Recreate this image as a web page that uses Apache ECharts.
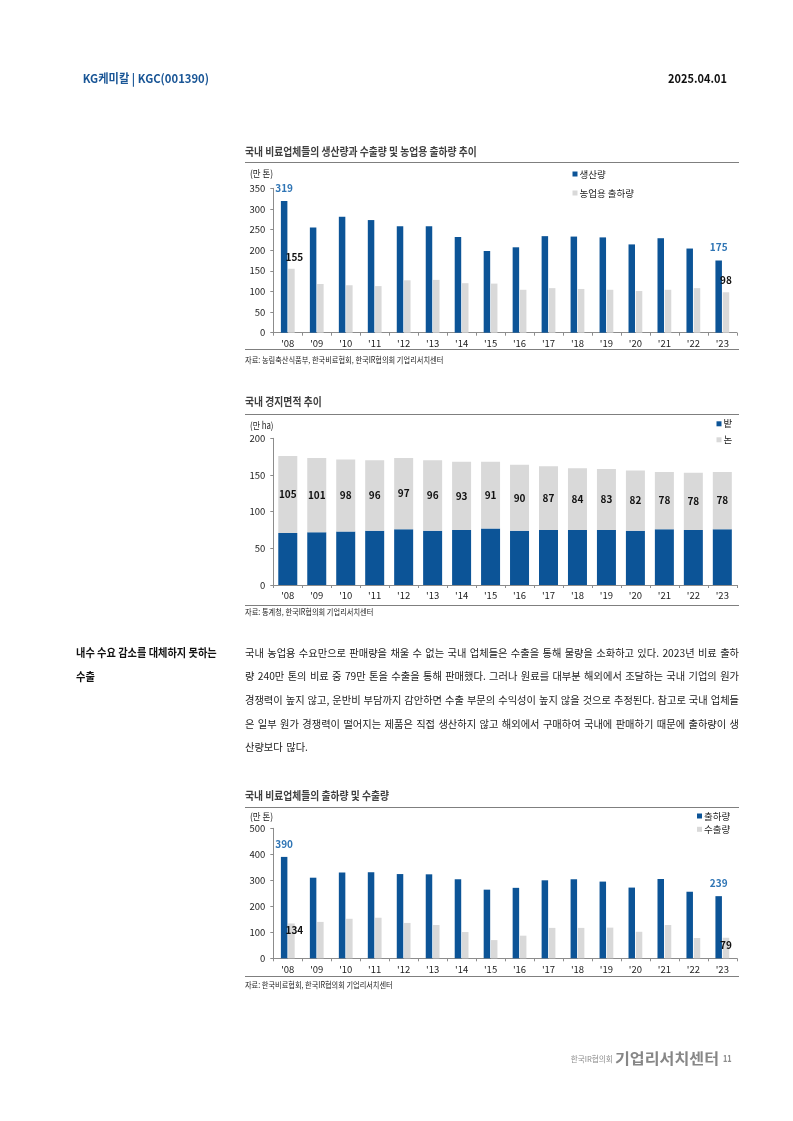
<!DOCTYPE html>
<html><head><meta charset="utf-8">
<script src="https://cdn.jsdelivr.net/npm/echarts@6/dist/echarts.min.js"></script>
<style>html,body{margin:0;padding:0;background:#fff}#c{width:793px;height:1121px}</style>
</head><body><div id="c"></div>
<script>
// ---------- data ----------
const years = ["'08","'09","'10","'11","'12","'13","'14","'15","'16","'17","'18","'19","'20","'21","'22","'23"];
// chart 1 (만 톤)
const production   = [319,255,281,273,258,258,232,198,207,234,233,231,214,229,204,175];
const agriShipment = [155,118,115,113,127,128,120,119,104,108,106,104,101,104,108,98];
// chart 2 (만 ha)
const dryField = [71,72,73,74,76,74,75,77,74,75,75,75,74,76,75,76];
const paddy    = [105,101,98,96,97,96,93,91,90,87,84,83,82,78,78,78];
// chart 3 (만 톤)
const shipment  = [390,310,330,331,324,323,304,264,271,300,304,295,272,305,256,239];
const exportVol = [134,140,152,156,136,128,101,70,87,117,117,118,102,128,78,79];

const bodyLines = [
  "국내 농업용 수요만으로 판매량을 채울 수 없는 국내 업체들은 수출을 통해 물량을 소화하고 있다. 2023년 비료 출하",
  "량 240만 톤의 비료 중 79만 톤을 수출을 통해 판매했다. 그러나 원료를 대부분 해외에서 조달하는 국내 기업의 원가",
  "경쟁력이 높지 않고, 운반비 부담까지 감안하면 수출 부문의 수익성이 높지 않을 것으로 추정된다. 참고로 국내 업체들",
  "은 일부 원가 경쟁력이 떨어지는 제품은 직접 생산하지 않고 해외에서 구매하여 국내에 판매하기 때문에 출하량이 생",
  "산량보다 많다."
];

// ---------- helpers ----------
const FONT = '"Noto Sans CJK KR", "Noto Sans", sans-serif';
const BLUE = '#0c5497', GRAY = '#d9d9d9', LBLUE = '#2f75b5', AX = '#8c8c8c';
const mctx = document.createElement('canvas').getContext('2d');
function measure(t, size, bold){ mctx.font = (bold?'bold ':'normal ') + size + 'px ' + FONT; return mctx.measureText(t).width; }
function txt(t, x, y, o){
  o = o || {};
  const size = o.size || 10, bold = !!o.bold;
  let sx = o.scale || 1;
  if (o.width) sx = o.width / measure(t, size, bold);
  const align = o.align || 'left';
  return {type:'text', x:x, y:y, scaleX:sx, silent:true, z:10,
    style:{text:t, fontSize:size, fontFamily:FONT, fontWeight:bold?'bold':'normal', fill:o.color||'#222',
      textAlign:align, textVerticalAlign:'middle', align:align, verticalAlign:'middle'}};
}
function hline(x1, x2, y, color){
  return {type:'line', silent:true, shape:{x1:x1, y1:y, x2:x2, y2:y}, style:{stroke:color||'#7f7f7f', lineWidth:1}};
}
function justify(lines, x, y0, lh, W, size, color){
  const els = [];
  let s = 1;
  lines.forEach((ln, i) => {
    if (i === lines.length - 1) return;
    const ws = ln.split(' ');
    const T = ws.reduce((a, w) => a + measure(w, size, false), 0);
    s = Math.min(s, (W - 3 * (ws.length - 1)) / T);
  });
  lines.forEach((ln, i) => {
    const ws = ln.split(' ');
    const widths = ws.map(w => measure(w, size, false) * s);
    const T = widths.reduce((a, b) => a + b, 0);
    const last = i === lines.length - 1;
    const gap = last ? 3.5 : (W - T) / (ws.length - 1);
    let cx = x;
    ws.forEach((w, j) => {
      els.push({type:'text', x:cx, y:y0 + i * lh, scaleX:s, silent:true,
        style:{text:w, fontSize:size, fontFamily:FONT, fill:color, textVerticalAlign:'middle', verticalAlign:'middle'}});
      cx += widths[j] + gap;
    });
  });
  return els;
}
function withEnds(arr, first, last){
  return arr.map((v, i) => {
    if (i === 0 && first) return {value:v, label:Object.assign({show:true}, first)};
    if (i === arr.length - 1 && last) return {value:v, label:Object.assign({show:true}, last)};
    return v;
  });
}
const blueLbl = {position:'top', distance:8, color:LBLUE, fontWeight:'bold', fontSize:10, fontFamily:FONT};
const blackTop = {position:'top', distance:7, color:'#111', fontWeight:'bold', fontSize:10, fontFamily:FONT};
const blackIn = {position:'insideTop', distance:2, color:'#111', fontWeight:'bold', fontSize:10, fontFamily:FONT};

// ---------- graphic ----------
const heading1 = "내수 수요 감소를 대체하지 못하는";
const hScale = 140.7 / measure(heading1, 11.5, true);
let graphic = [
  txt('KG케미칼 | KGC(001390)', 82.7, 78.3, {bold:true, size:12, width:126.3, color:'#1a5696'}),
  txt('2025.04.01', 727, 78.3, {bold:true, size:12, width:59, align:'right', color:'#111'}),
  // chart 1
  txt('국내 비료업체들의 생산량과 수출량 및 농업용 출하량 추이', 245, 151.7, {bold:true, size:11, width:231.7, color:'#3f3f3f'}),
  hline(245, 739, 162.5), hline(245, 739, 349.5),
  txt('(만 톤)', 250, 173.3, {size:9.5, width:23, color:'#222'}),
  txt('자료: 농림축산식품부, 한국비료협회, 한국IR협의회 기업리서치센터', 245, 360, {size:8.5, width:198.3, color:'#222'}),
  // chart 2
  txt('국내 경지면적 추이', 245, 401.7, {bold:true, size:11, width:76.7, color:'#3f3f3f'}),
  hline(245, 739, 414.5), hline(245, 739, 605.5),
  txt('(만 ha)', 250, 425, {size:9.5, width:23.5, color:'#222'}),
  txt('자료: 통계청, 한국IR협의회 기업리서치센터', 245, 612, {size:8.5, width:128.3, color:'#222'}),
  // chart 3
  txt('국내 비료업체들의 출하량 및 수출량', 245, 795.7, {bold:true, size:11, width:144, color:'#3f3f3f'}),
  hline(245, 739, 807.5), hline(245, 739, 976.5),
  txt('(만 톤)', 250, 816.7, {size:9.5, width:23, color:'#222'}),
  txt('자료: 한국비료협회, 한국IR협의회 기업리서치센터', 245, 985, {size:8.5, width:147.7, color:'#222'}),
  // text section
  txt(heading1, 76, 652.7, {bold:true, size:11.5, scale:hScale, color:'#111'}),
  txt('수출', 76, 676.3, {bold:true, size:11.5, scale:hScale, color:'#111'}),
  // footer
  txt('한국IR협의회', 570.7, 1058.5, {size:8, width:42, color:'#8c8c8c'}),
  txt('기업리서치센터', 615, 1058, {bold:true, size:15, width:104, color:'#878787'}),
  txt('11', 723, 1058.5, {bold:true, size:9.5, width:8.7, color:'#8c8c8c'})
];
graphic = graphic.concat(justify(bodyLines, 245, 652.7, 23.65, 494, 10.5, '#222'));

// ---------- axes ----------
const gridDefs = [
  {left:273.3, top:188.3, width:463.5, height:144.4},
  {left:273.3, top:438.3, width:463.5, height:146.7},
  {left:273.3, top:828.3, width:463.5, height:130}
];
const yDefs = [{min:0, max:350, interval:50}, {min:0, max:200, interval:50}, {min:0, max:500, interval:100}];
const legendText = {fontSize:9.5, color:'#222', lineHeight:12, padding:[0,0,0,-3], fontFamily:FONT};

const option = {
  animation:false,
  backgroundColor:'#fff',
  textStyle:{fontFamily:FONT},
  grid:gridDefs,
  xAxis:gridDefs.map((g, i) => ({
    type:'category', gridIndex:i, data:years,
    axisLine:{show:true, lineStyle:{color:AX, width:1}},
    axisTick:{show:true, length:3, lineStyle:{color:AX}},
    axisLabel:{color:'#222', fontSize:9.5, margin:6, fontFamily:FONT}
  })),
  yAxis:yDefs.map((d, i) => ({
    type:'value', gridIndex:i, min:d.min, max:d.max, interval:d.interval,
    axisLine:{show:true, lineStyle:{color:AX, width:1}},
    axisTick:{show:true, length:3, lineStyle:{color:AX}},
    splitLine:{show:false},
    axisLabel:{color:'#222', fontSize:9.5, margin:8, fontFamily:FONT}
  })),
  legend:[
    {data:['생산량','농업용 출하량'], orient:'vertical', left:567.5, top:163, itemWidth:5, itemHeight:5, itemGap:7, icon:'rect', selectedMode:false, textStyle:legendText},
    {data:['밭','논'], orient:'vertical', left:711.5, top:412.8, itemWidth:5, itemHeight:5, itemGap:4, icon:'rect', selectedMode:false, textStyle:legendText},
    {data:['출하량','수출량'], orient:'vertical', left:692, top:805, itemWidth:5, itemHeight:5, itemGap:1.3, icon:'rect', selectedMode:false, textStyle:legendText}
  ],
  series:[
    {name:'생산량', type:'bar', xAxisIndex:0, yAxisIndex:0, barWidth:6.5, barGap:'12%', itemStyle:{color:BLUE},
     label:{show:false}, data:withEnds(production, blueLbl, blueLbl)},
    {name:'농업용 출하량', type:'bar', xAxisIndex:0, yAxisIndex:0, barWidth:6.5, barGap:'12%', itemStyle:{color:GRAY},
     label:{show:false}, data:withEnds(agriShipment, Object.assign({offset:[3,0]}, blackTop), blackTop)},
    {name:'밭', type:'bar', xAxisIndex:1, yAxisIndex:1, stack:'area', barWidth:19, itemStyle:{color:BLUE},
     label:{show:false}, data:dryField},
    {name:'논', type:'bar', xAxisIndex:1, yAxisIndex:1, stack:'area', barWidth:19, itemStyle:{color:GRAY},
     label:{show:true, position:'inside', color:'#111', fontWeight:'bold', fontSize:10, fontFamily:FONT}, data:paddy},
    {name:'출하량', type:'bar', xAxisIndex:2, yAxisIndex:2, barWidth:6.5, barGap:'12%', itemStyle:{color:BLUE},
     label:{show:false}, data:withEnds(shipment, blueLbl, blueLbl)},
    {name:'수출량', type:'bar', xAxisIndex:2, yAxisIndex:2, barWidth:6.5, barGap:'12%', itemStyle:{color:GRAY},
     label:{show:false}, data:withEnds(exportVol, Object.assign({offset:[3,0]}, blackIn), blackIn)}
  ],
  graphic:graphic
};
const chart = echarts.init(document.getElementById('c'), null, {renderer:'canvas', width:793, height:1121});
chart.setOption(option);
</script>
</body></html>
